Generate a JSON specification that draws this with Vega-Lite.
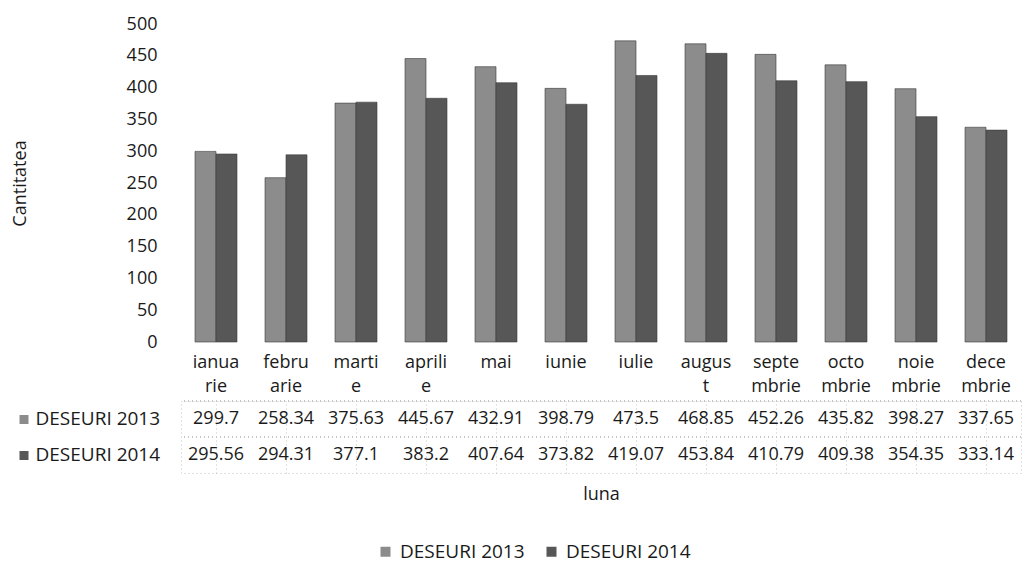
{
  "$schema": "https://vega.github.io/schema/vega-lite/v6.json",
  "padding": {"left": 11, "top": 15, "right": 0, "bottom": 4},
  "config": {
    "font": "Open Sans",
    "view": {"stroke": null},
    "axis": {"labelColor": "#1a1a1a", "titleColor": "#1a1a1a", "titleFontWeight": "normal", "labelFontSize": 18, "titleFontSize": 18},
    "legend": {"labelFontSize": 19, "labelColor": "#1a1a1a", "layout": {"bottom": {"anchor": "middle"}}}
  },
  "data": {
    "values": [
      {"luna": "ianuarie", "serie": "DESEURI 2013", "valoare": 299.7},
      {"luna": "februarie", "serie": "DESEURI 2013", "valoare": 258.34},
      {"luna": "martie", "serie": "DESEURI 2013", "valoare": 375.63},
      {"luna": "aprilie", "serie": "DESEURI 2013", "valoare": 445.67},
      {"luna": "mai", "serie": "DESEURI 2013", "valoare": 432.91},
      {"luna": "iunie", "serie": "DESEURI 2013", "valoare": 398.79},
      {"luna": "iulie", "serie": "DESEURI 2013", "valoare": 473.5},
      {"luna": "august", "serie": "DESEURI 2013", "valoare": 468.85},
      {"luna": "septembrie", "serie": "DESEURI 2013", "valoare": 452.26},
      {"luna": "octombrie", "serie": "DESEURI 2013", "valoare": 435.82},
      {"luna": "noiembrie", "serie": "DESEURI 2013", "valoare": 398.27},
      {"luna": "decembrie", "serie": "DESEURI 2013", "valoare": 337.65},
      {"luna": "ianuarie", "serie": "DESEURI 2014", "valoare": 295.56},
      {"luna": "februarie", "serie": "DESEURI 2014", "valoare": 294.31},
      {"luna": "martie", "serie": "DESEURI 2014", "valoare": 377.1},
      {"luna": "aprilie", "serie": "DESEURI 2014", "valoare": 383.2},
      {"luna": "mai", "serie": "DESEURI 2014", "valoare": 407.64},
      {"luna": "iunie", "serie": "DESEURI 2014", "valoare": 373.82},
      {"luna": "iulie", "serie": "DESEURI 2014", "valoare": 419.07},
      {"luna": "august", "serie": "DESEURI 2014", "valoare": 453.84},
      {"luna": "septembrie", "serie": "DESEURI 2014", "valoare": 410.79},
      {"luna": "octombrie", "serie": "DESEURI 2014", "valoare": 409.38},
      {"luna": "noiembrie", "serie": "DESEURI 2014", "valoare": 354.35},
      {"luna": "decembrie", "serie": "DESEURI 2014", "valoare": 333.14}
    ]
  },
  "spacing": 5,
  "vconcat": [
    {
      "width": 840,
      "height": 318,
      "mark": {"type": "bar", "stroke": "#3a3a3a", "strokeWidth": 0.6},
      "encoding": {
        "x": {
          "field": "luna", "type": "nominal", "sort": null,
          "scale": {"paddingInner": 0.4, "paddingOuter": 0.2},
          "axis": {
            "title": null, "ticks": false, "domain": false, "labelAngle": 0,
            "labelBaseline": "top", "labelPadding": 11, "labelLineHeight": 24,
            "labelExpr": "{'ianuarie': ['ianua', 'rie'], 'februarie': ['febru', 'arie'], 'martie': ['marti', 'e'], 'aprilie': ['aprili', 'e'], 'mai': ['mai'], 'iunie': ['iunie'], 'iulie': ['iulie'], 'august': ['augus', 't'], 'septembrie': ['septe', 'mbrie'], 'octombrie': ['octo', 'mbrie'], 'noiembrie': ['noie', 'mbrie'], 'decembrie': ['dece', 'mbrie']}[datum.value]"
          }
        },
        "xOffset": {"field": "serie", "type": "nominal"},
        "y": {
          "field": "valoare", "type": "quantitative",
          "scale": {"domain": [0, 500]},
          "axis": {
            "title": "Cantitatea", "values": [0, 50, 100, 150, 200, 250, 300, 350, 400, 450, 500],
            "grid": false, "domain": false, "ticks": false, "labelPadding": 24, "titlePadding": 97
          }
        },
        "color": {
          "field": "serie", "type": "nominal",
          "scale": {"range": ["#8c8c8c", "#575757"]},
          "legend": {"orient": "bottom", "title": "\u2003", "titleOrient": "right", "titlePadding": 136, "titleFontSize": 18, "symbolType": "square", "symbolSize": 100, "symbolStrokeWidth": 0, "columnPadding": 17, "labelOffset": 5, "offset": 38}
        }
      }
    },
    {
      "width": 840,
      "height": 72,
      "view": {"stroke": "#c4c4c4", "strokeDash": [1, 3]},
      "layer": [
        {
          "mark": {"type": "rule", "stroke": "#c4c4c4", "strokeDash": [1, 3]},
          "encoding": {
            "y": {"field": "serie", "type": "nominal", "bandPosition": 0}
          }
        },
        {
          "mark": {"type": "text", "fontSize": 18, "color": "#1a1a1a"},
          "encoding": {
            "x": {
              "field": "luna", "type": "nominal", "sort": null,
              "scale": {"paddingInner": 0, "paddingOuter": 0},
              "axis": {"title": "luna", "labels": false, "ticks": false, "domain": false, "grid": true, "gridColor": "#c4c4c4", "gridDash": [1, 3], "bandPosition": 0, "titlePadding": 12}
            },
            "y": {
              "field": "serie", "type": "nominal",
              "axis": {
                "title": null, "offset": 153, "domain": false, "tickSize": 9, "tickWidth": 9,
                "tickColor": {"condition": {"test": "datum.value === 'DESEURI 2013'", "value": "#8c8c8c"}, "value": "#575757"},
                "labelAlign": "left", "labelPadding": -16, "labelFontSize": 19
              }
            },
            "text": {"field": "valoare", "type": "quantitative"}
          }
        }
      ]
    }
  ]
}
